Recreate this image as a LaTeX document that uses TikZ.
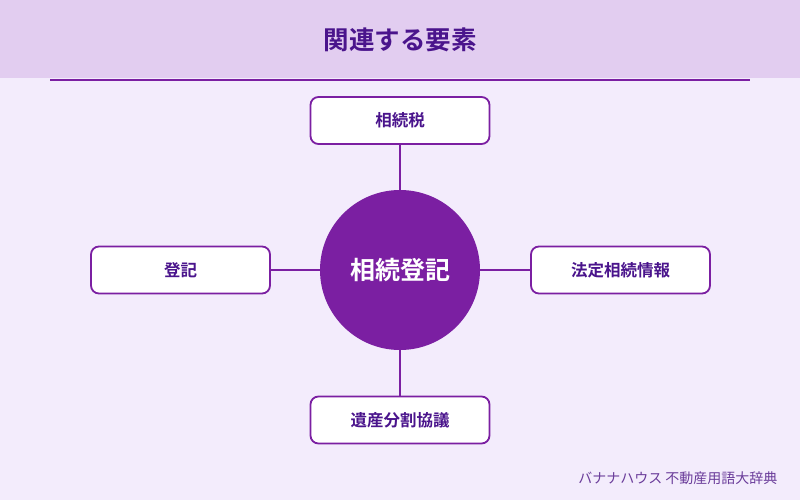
\documentclass[tikz,border=0pt]{standalone}
\usepackage{fontspec}
\newfontfamily\cjk{Noto Sans CJK JP}
\newfontfamily\cjkb{Noto Sans CJK JP Bold}
\definecolor{bg}{HTML}{F3ECFC}
\definecolor{hdr}{HTML}{E2CDF0}
\definecolor{pur}{HTML}{7B1FA2}
\definecolor{dpur}{HTML}{4A148C}
\definecolor{foot}{HTML}{6A3C9A}
\tikzset{
  itembox/.style={draw=pur, line width=1.8pt, fill=white, rounded corners=8pt,
    minimum width=179pt, minimum height=47pt, font=\cjkb\fontsize{16.5}{19}\selectfont, text=dpur},
  link/.style={draw=pur, line width=1.8pt}
}
\begin{document}
\begin{tikzpicture}[x=1pt,y=-1pt]
\useasboundingbox (0,0) rectangle (800,500);
\fill[bg] (0,0) rectangle (800,500);
\fill[hdr] (0,0) rectangle (800,78);
\node[font=\cjkb\fontsize{25.5}{30}\selectfont, text=dpur] (title) at (400,40) {関連する要素};
\coordinate (l1) at (50,80);
\coordinate (l2) at (750,80);
\draw[pur, line width=2pt] (l1) -- (l2);
\node[itembox] (top) at (400,120.5) {相続税};
\node[itembox] (left) at (180.5,270) {登記};
\node[itembox] (right) at (620.5,270) {法定相続情報};
\node[itembox] (bottom) at (400,420) {遺産分割協議};
\node[circle, fill=pur, minimum size=160pt, inner sep=0pt, text=white,
  font=\cjkb\fontsize{25}{30}\selectfont] (c) at (400,270) {相続登記};
\draw[link] (c) -- (top);
\draw[link] (c) -- (left);
\draw[link] (c) -- (right);
\draw[link] (c) -- (bottom);
\node[anchor=east, font=\cjk\fontsize{14}{16}\selectfont, text=foot] (ft) at (781,478) {バナナハウス 不動産用語大辞典};
\end{tikzpicture}
\end{document}
